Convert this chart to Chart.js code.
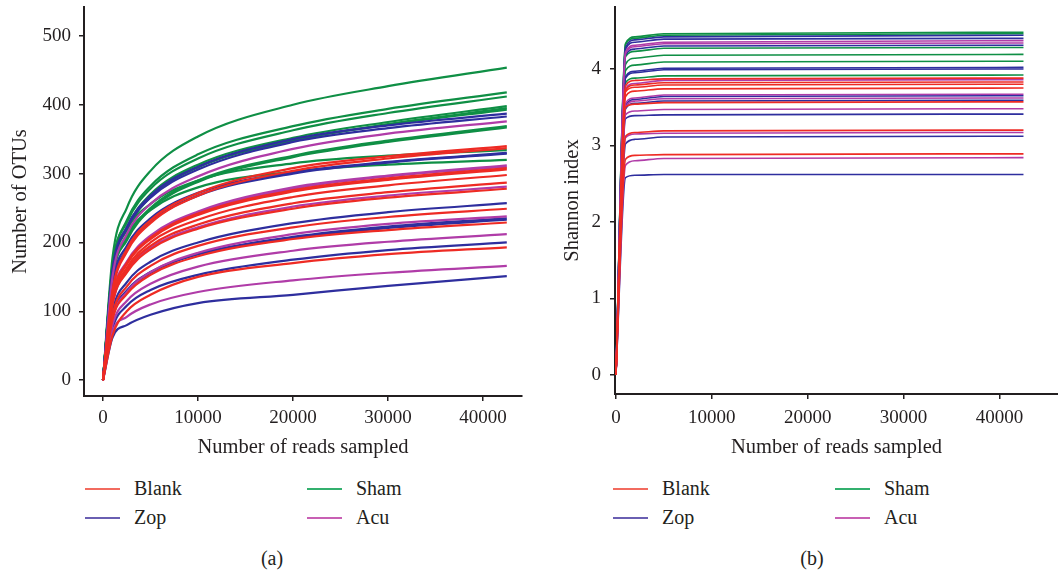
<!DOCTYPE html>
<html>
<head>
<meta charset="utf-8">
<script src="https://cdn.jsdelivr.net/npm/chart.js@4.4.1/dist/chart.umd.min.js"></script>
<style>
  body { margin: 0; background: #fff; width: 1058px; height: 573px; position: relative; overflow: hidden;
         font-family: "Liberation Serif", "DejaVu Serif", serif; color: #231f20; }
  .panel { position: absolute; top: 0; }
  .key-line { position: absolute; width: 35px; height: 0; border-top: 2px solid; }
  .key-text { position: absolute; font-size: 20px; line-height: 24px; }
  .caption { position: absolute; font-size: 20px; line-height: 24px; transform: translateX(-50%); }
</style>
</head>
<body>
<div class="panel" style="left:0"><canvas id="otu-chart" width="530" height="462"></canvas></div>
<div class="panel" style="left:530px"><canvas id="shannon-chart" width="528" height="462"></canvas></div>
<div id="keys"></div>

<script>
// Panel (a): observed OTUs vs sequencing depth
const otuReads = [0, 1000, 2500, 5000, 10000, 20000, 30000, 42500];
const otuTicksX = [0, 10000, 20000, 30000, 40000];
const otuTicksY = [0, 100, 200, 300, 400, 500];

const otuBlank = [
  [0, 130, 190, 232, 272, 308, 325, 340],
  [0, 128, 186, 228, 268, 304, 322, 337],
  [0, 120, 170, 207, 242, 276, 293, 308],
  [0, 118, 168, 205, 240, 274, 291, 306],
  [0, 115, 163, 200, 233, 266, 283, 298],
  [0, 112, 160, 195, 226, 257, 273, 287],
  [0, 110, 156, 190, 220, 249, 265, 278],
  [0, 95, 136, 166, 195, 222, 237, 249],
  [0, 88, 125, 153, 180, 205, 218, 229],
  [0, 65, 100, 124, 150, 170, 183, 193]
];
const otuAcu = [
  [0, 150, 212, 256, 296, 336, 358, 376],
  [0, 122, 172, 210, 245, 280, 297, 312],
  [0, 120, 170, 208, 243, 278, 296, 310],
  [0, 110, 158, 192, 222, 252, 268, 281],
  [0, 90, 128, 157, 185, 212, 227, 238],
  [0, 80, 115, 140, 165, 188, 201, 212],
  [0, 70, 92, 110, 128, 145, 156, 166]
];
const otuZop = [
  [0, 160, 222, 268, 310, 350, 370, 387],
  [0, 158, 220, 265, 306, 346, 366, 383],
  [0, 140, 195, 235, 272, 302, 317, 330],
  [0, 135, 190, 230, 268, 300, 316, 329],
  [0, 100, 142, 172, 200, 228, 244, 257],
  [0, 90, 128, 156, 183, 208, 223, 235],
  [0, 92, 130, 157, 183, 207, 221, 233],
  [0, 75, 108, 131, 153, 175, 189, 200],
  [0, 62, 80, 95, 112, 124, 137, 151]
];
const otuSham = [
  [0, 178, 250, 304, 354, 400, 427, 454],
  [0, 165, 232, 282, 328, 369, 394, 418],
  [0, 166, 229, 278, 322, 363, 388, 412],
  [0, 162, 222, 270, 313, 352, 375, 398],
  [0, 158, 218, 266, 309, 348, 372, 395],
  [0, 160, 220, 268, 310, 348, 371, 393],
  [0, 150, 206, 250, 290, 326, 348, 369],
  [0, 148, 203, 248, 288, 324, 346, 367],
  [0, 160, 218, 256, 290, 315, 326, 334],
  [0, 152, 210, 247, 280, 303, 313, 320]
];

// Panel (b): Shannon index vs sequencing depth
const shannonReads = [0, 1000, 2000, 5000, 42500];
const shannonTicksX = [0, 10000, 20000, 30000, 40000];
const shannonTicksY = [0, 1, 2, 3, 4];

const shannonBlank = [
  [0, 3.78, 3.85, 3.87, 3.88],
  [0, 3.72, 3.79, 3.82, 3.83],
  [0, 3.70, 3.76, 3.79, 3.80],
  [0, 3.64, 3.71, 3.74, 3.75],
  [0, 3.50, 3.54, 3.56, 3.57],
  [0, 3.12, 3.17, 3.19, 3.20],
  [0, 2.82, 2.87, 2.88, 2.89]
];
const shannonAcu = [
  [0, 4.22, 4.31, 4.35, 4.37],
  [0, 4.20, 4.29, 4.33, 4.34],
  [0, 3.74, 3.81, 3.85, 3.86],
  [0, 3.55, 3.62, 3.66, 3.67],
  [0, 3.50, 3.58, 3.61, 3.62],
  [0, 3.40, 3.45, 3.47, 3.48],
  [0, 3.10, 3.15, 3.16, 3.17],
  [0, 2.74, 2.80, 2.83, 2.84]
];
const shannonZop = [
  [0, 4.28, 4.38, 4.42, 4.44],
  [0, 4.26, 4.35, 4.39, 4.40],
  [0, 4.18, 4.26, 4.30, 4.31],
  [0, 3.90, 3.97, 4.01, 4.02],
  [0, 3.88, 3.95, 3.99, 4.00],
  [0, 3.52, 3.60, 3.64, 3.65],
  [0, 3.48, 3.55, 3.58, 3.59],
  [0, 3.35, 3.39, 3.40, 3.41],
  [0, 3.02, 3.08, 3.11, 3.12],
  [0, 2.58, 2.61, 2.62, 2.62]
];
const shannonSham = [
  [0, 4.33, 4.42, 4.46, 4.48],
  [0, 4.32, 4.40, 4.44, 4.46],
  [0, 4.16, 4.23, 4.27, 4.28],
  [0, 4.06, 4.14, 4.18, 4.19],
  [0, 3.98, 4.05, 4.09, 4.10],
  [0, 3.82, 3.88, 3.91, 3.92]
];

const lineColors = { Blank: "#ee2b24", Sham: "#0f8f45", Zop: "#2e2e9e", Acu: "#b03ca8" };
const keyColors = { Blank: "#f26b5f", Sham: "#33b06e", Zop: "#6a5fb2", Acu: "#c860b4" };

const FONT = "'Liberation Serif', 'DejaVu Serif', serif";
const INK = "#231f20";

function makeDatasets(reads, groups, width) {
  const out = [];
  groups.forEach((g) => {
    g.curves.forEach((curve, i) => {
      out.push({
        label: g.name + " " + (i + 1),
        data: curve.map((v, k) => ({ x: reads[k], y: v })),
        borderColor: lineColors[g.name],
        borderWidth: width,
        pointRadius: 0,
        fill: false,
        cubicInterpolationMode: "monotone"
      });
    });
  });
  return out;
}

function axisOptions(o) {
  return {
    type: "linear",
    min: o.min,
    max: o.max,
    afterBuildTicks: (scale) => { scale.ticks = o.ticks.map((v) => ({ value: v })); },
    afterFit: (scale) => {
      if (o.width) scale.width = o.width;
      if (o.height) scale.height = o.height;
      // keep the plot box where the reference has it
      scale.paddingTop = 0;
      scale.paddingBottom = 0;
      scale.paddingLeft = 0;
      scale.paddingRight = 0;
    },
    border: { display: true, color: INK, width: 2 },
    grid: { display: true, drawOnChartArea: false, drawTicks: true, tickLength: 5, color: INK, lineWidth: 1.5 },
    ticks: {
      color: INK,
      padding: o.pad,
      font: { family: FONT, size: 19 },
      callback: (v) => String(v)
    },
    title: {
      display: true,
      text: o.title,
      color: INK,
      padding: o.titlePad,
      font: { family: FONT, size: 20.5 }
    }
  };
}

function drawPanel(id, reads, groups, width, xOpt, yOpt, padRight) {
  return new Chart(document.getElementById(id), {
    type: "line",
    data: { datasets: makeDatasets(reads, groups, width) },
    options: {
      responsive: false,
      animation: false,
      layout: { padding: { top: 7, right: padRight, left: 0, bottom: 0 } },
      plugins: { legend: { display: false }, tooltip: { enabled: false } },
      scales: { x: axisOptions(xOpt), y: axisOptions(yOpt) }
    }
  });
}

drawPanel("otu-chart", otuReads, [
  { name: "Blank", curves: otuBlank },
  { name: "Acu", curves: otuAcu },
  { name: "Zop", curves: otuZop },
  { name: "Sham", curves: otuSham }
], 2.2,
  { min: -2000, max: 44100, ticks: otuTicksX, height: 66, pad: 6, title: "Number of reads sampled", titlePad: { top: 0, bottom: 2 } },
  { min: -23, max: 542, ticks: otuTicksY, width: 84, pad: 8, title: "Number of OTUs", titlePad: { top: 8, bottom: 0 } },
  8);

drawPanel("shannon-chart", shannonReads, [
  { name: "Blank", curves: shannonBlank },
  { name: "Acu", curves: shannonAcu },
  { name: "Zop", curves: shannonZop },
  { name: "Sham", curves: shannonSham }
], 1.6,
  { min: -100, max: 46100, ticks: shannonTicksX, height: 68, pad: 8, title: "Number of reads sampled", titlePad: { top: 0, bottom: 2 } },
  { min: -0.25, max: 4.81, ticks: shannonTicksY, width: 85, pad: 9, title: "Shannon index", titlePad: { top: 30, bottom: 0 } },
  0);

// Legends under each panel (two columns, two rows) plus panel captions
const keyCols = [[85, 307], [613, 835]];
const keyRows = [489, 518];
const keyLayout = [["Blank", 0, 0], ["Sham", 1, 0], ["Zop", 0, 1], ["Acu", 1, 1]];
const keys = document.getElementById("keys");
keyCols.forEach((cols) => {
  keyLayout.forEach(([name, c, r]) => {
    const line = document.createElement("div");
    line.className = "key-line";
    line.style.left = cols[c] + "px";
    line.style.top = (keyRows[r] - 1) + "px";
    line.style.borderColor = keyColors[name];
    keys.appendChild(line);
    const txt = document.createElement("div");
    txt.className = "key-text";
    txt.style.left = (cols[c] + 49) + "px";
    txt.style.top = (keyRows[r] - 13) + "px";
    txt.textContent = name;
    keys.appendChild(txt);
  });
});
[["(a)", 272], ["(b)", 812]].forEach(([t, cx]) => {
  const cap = document.createElement("div");
  cap.className = "caption";
  cap.style.left = cx + "px";
  cap.style.top = "546px";
  cap.textContent = t;
  keys.appendChild(cap);
});
</script>
</body>
</html>
